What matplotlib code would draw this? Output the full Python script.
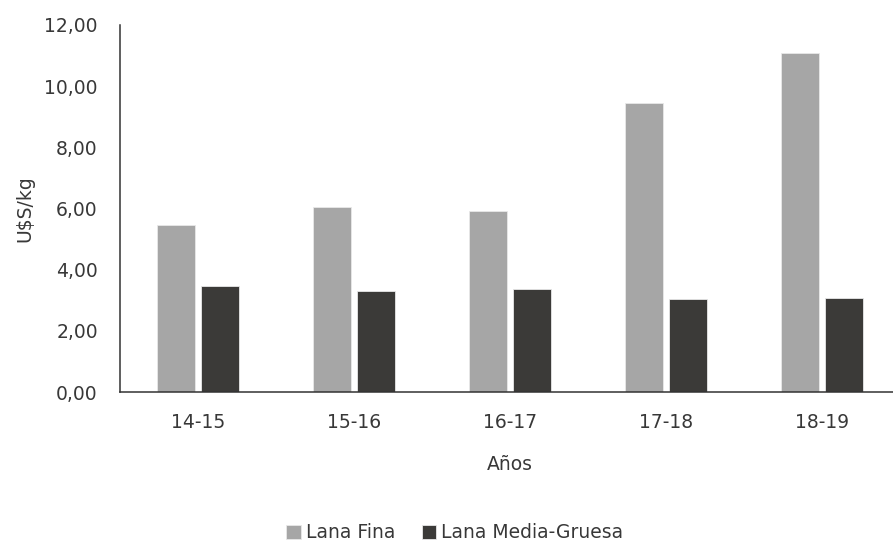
import numpy as np
import matplotlib
matplotlib.use("Agg")
import matplotlib.pyplot as plt
from matplotlib.ticker import FuncFormatter

# precios de lana por zafra (U$S/kg)
zafras = ["14-15", "15-16", "16-17", "17-18", "18-19"]
lana_fina = [5.45, 6.04, 5.91, 9.46, 11.08]
lana_media_gruesa = [3.48, 3.29, 3.36, 3.03, 3.08]

color_fina = "#a6a6a6"
color_media = "#3b3a38"
text_color = "#383838"
fs = 13.5

fig = plt.figure(figsize=(8.93, 5.43), dpi=100)
ax = fig.add_axes([120 / 893, 151 / 543, 780 / 893, 367 / 543])

x = np.arange(len(zafras))
w = 0.24
ax.bar(x - 0.14, lana_fina, w, color=color_fina, edgecolor="#e8e8e8",
       linewidth=0.6, label="Lana Fina")
ax.bar(x + 0.14, lana_media_gruesa, w, color=color_media, edgecolor="#e8e8e8",
       linewidth=0.6, label="Lana Media-Gruesa")

ax.set_xlim(-0.5, 4.5)
ax.set_ylim(0, 12)
ax.set_yticks(np.arange(0, 13, 2))
ax.yaxis.set_major_formatter(FuncFormatter(lambda v, p: f"{v:.2f}".replace(".", ",")))
ax.set_xticks(x)
ax.set_xticklabels(zafras)

for side in ["top", "right"]:
    ax.spines[side].set_visible(False)
for side in ["left", "bottom"]:
    ax.spines[side].set_color("#333333")
    ax.spines[side].set_linewidth(1.1)

ax.tick_params(axis="y", length=0, pad=16, labelsize=fs, labelcolor=text_color)
ax.tick_params(axis="x", length=0, pad=15, labelsize=fs, labelcolor=text_color)

ax.set_xlabel("Años", fontsize=fs, color=text_color, labelpad=17)
ax.set_ylabel("U$S/kg", fontsize=fs, color=text_color, labelpad=7)

fig.legend(loc="center", bbox_to_anchor=(455 / 893, 10 / 543), ncol=2,
           frameon=False, fontsize=fs, labelcolor=text_color,
           handlelength=0.75, handleheight=0.75, handletextpad=0.3,
           columnspacing=1.4)

fig.savefig("out.png", dpi=100)
